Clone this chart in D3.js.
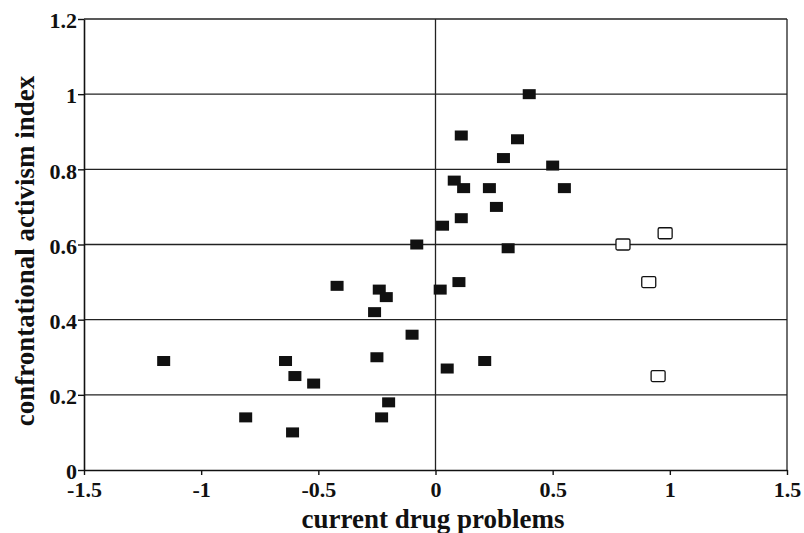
<!DOCTYPE html>
<html>
<head>
<meta charset="utf-8">
<script src="https://cdn.jsdelivr.net/npm/d3@7"></script>
<style>
  body { margin: 0; background: #fff; }
  svg text { font-family: 'Liberation Serif', 'Times New Roman', serif; font-weight: bold; fill: #111; }
</style>
</head>
<body>
<svg id="chart" width="804" height="533"></svg>
<script>
// filled markers: [drug problems, activism index]
const filledX = [0.40, 0.11, 0.35, 0.29, 0.50, 0.08, 0.12, 0.23, 0.55, 0.26, 0.11, 0.03,
  -0.08, 0.31, 0.10, 0.02, -0.42, -0.24, -0.21, -0.26, -0.10, 0.21, 0.05,
  -1.16, -0.64, -0.25, -0.60, -0.52, -0.20, -0.81, -0.23, -0.61]
const filledY = [1.00, 0.89, 0.88, 0.83, 0.81, 0.77, 0.75, 0.75, 0.75, 0.70, 0.67, 0.65,
  0.60, 0.59, 0.50, 0.48, 0.49, 0.48, 0.46, 0.42, 0.36, 0.29, 0.27,
  0.29, 0.29, 0.30, 0.25, 0.23, 0.18, 0.14, 0.14, 0.10]
// open markers
const openX = [0.98, 0.80, 0.91, 0.95]
const openY = [0.63, 0.60, 0.50, 0.25]

const xTicks = [-1.5, -1, -0.5, 0, 0.5, 1, 1.5]
const yTicks = [0, 0.2, 0.4, 0.6, 0.8, 1, 1.2]
const xLabel = 'current drug problems'
const yLabel = 'confrontational activism index'

const svg = d3.select('#chart')
const margin = { left: 84, right: 17, top: 19, bottom: 63 }
const width = +svg.attr('width')
const height = +svg.attr('height')
const innerWidth = width - margin.left - margin.right
const innerHeight = height - margin.top - margin.bottom

const g = svg.append('g')
  .attr('transform', `translate(${margin.left},${margin.top})`)

const x = d3.scaleLinear().domain([-1.5, 1.5]).range([0, innerWidth])
const y = d3.scaleLinear().domain([0, 1.2]).range([innerHeight, 0])

// horizontal grid
g.selectAll('.hgrid').data(yTicks.filter(d => d > 0))
  .enter().append('line')
  .attr('x1', 0).attr('x2', innerWidth)
  .attr('y1', d => y(d)).attr('y2', d => y(d))
  .attr('stroke', '#222').attr('stroke-width', 1.3)

// vertical line at zero and right border
g.selectAll('.vgrid').data([0, 1.5])
  .enter().append('line')
  .attr('x1', d => x(d)).attr('x2', d => x(d))
  .attr('y1', 0).attr('y2', innerHeight)
  .attr('stroke', '#222').attr('stroke-width', 1.3)

const xAxis = d3.axisBottom(x).tickValues(xTicks).tickSize(5).tickSizeOuter(0).tickFormat(d => String(d))
const yAxis = d3.axisLeft(y).tickValues(yTicks).tickSize(6).tickSizeOuter(0).tickFormat(d => String(d))

const xAxisG = g.append('g')
  .attr('transform', `translate(0,${innerHeight})`)
  .call(xAxis)
const yAxisG = g.append('g').call(yAxis)

;[xAxisG, yAxisG].forEach(a => {
  a.attr('font-family', null).attr('font-size', null)
  a.select('.domain').attr('stroke', '#111').attr('stroke-width', 1.6)
  a.selectAll('.tick line').attr('stroke', '#111').attr('stroke-width', 1.4)
  a.selectAll('.tick text').style('font-size', '22px').attr('fill', '#111')
})
xAxisG.selectAll('.tick text').attr('y', 11)
yAxisG.selectAll('.tick text').attr('x', -7).attr('dy', '0.4em')

const mw = 13
const mh = 10

g.selectAll('.filled').data(filledX.map((v, i) => [v, filledY[i]]))
  .enter().append('rect')
  .attr('x', d => x(d[0]) - mw / 2)
  .attr('y', d => y(d[1]) - mh / 2)
  .attr('width', mw)
  .attr('height', mh)
  .attr('fill', '#111')

g.selectAll('.open').data(openX.map((v, i) => [v, openY[i]]))
  .enter().append('rect')
  .attr('x', d => x(d[0]) - 7)
  .attr('y', d => y(d[1]) - 5.5)
  .attr('width', 14)
  .attr('height', 11)
  .attr('rx', 1.5)
  .attr('fill', '#fff')
  .attr('stroke', '#111')
  .attr('stroke-width', 1.3)

svg.append('text')
  .attr('x', 433)
  .attr('y', 528)
  .attr('text-anchor', 'middle')
  .style('font-size', '27px')
  .text(xLabel)

svg.append('text')
  .attr('transform', `translate(34,251) rotate(-90)`)
  .attr('text-anchor', 'middle')
  .style('font-size', '27px')
  .text(yLabel)
</script>
</body>
</html>
